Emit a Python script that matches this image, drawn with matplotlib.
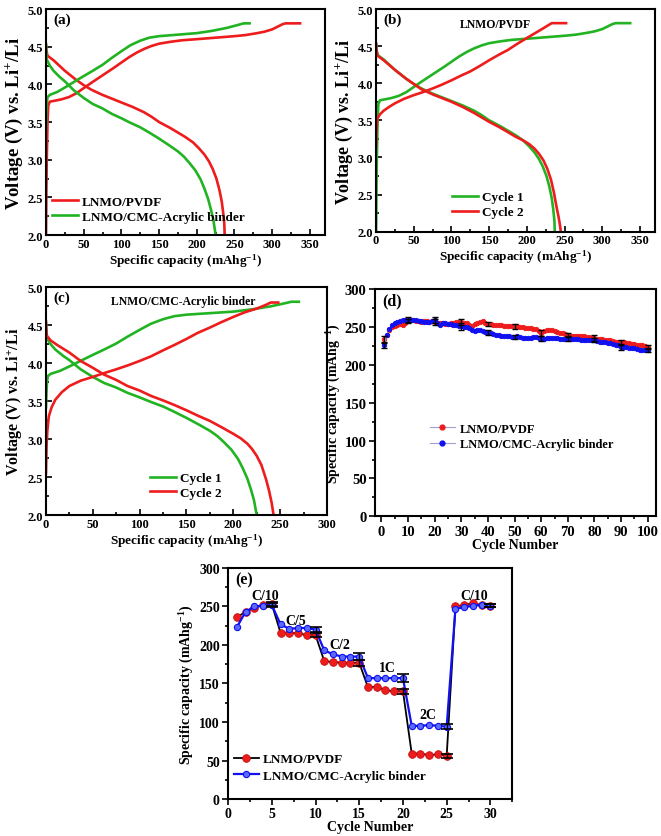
import matplotlib
matplotlib.use("Agg")
import matplotlib.pyplot as plt
from matplotlib.ticker import MultipleLocator, FormatStrFormatter
from matplotlib.lines import Line2D

plt.rcParams['font.family'] = ['Liberation Serif', 'DejaVu Serif']
plt.rcParams['font.weight'] = 'bold'
plt.rcParams['axes.labelweight'] = 'bold'
plt.rcParams['mathtext.fontset'] = 'custom'
plt.rcParams['mathtext.bf'] = 'Liberation Serif:bold'
plt.rcParams['mathtext.rm'] = 'Liberation Serif:bold'
plt.rcParams['mathtext.default'] = 'bf'

RED = '#ee1c1c'
GREEN = '#22b322'
BLUE = '#1010f0'

# ---- charge / discharge curves (capacity mAh/g, voltage V) ----
pvdf_c1_chg_x = [0, 0.5, 1, 2, 3, 5, 10, 20, 30, 40, 50, 60, 75, 90, 100, 110, 120, 130, 140, 150,
                 165, 180, 200, 225, 250, 265, 280, 290, 300, 308, 314, 318, 337]
pvdf_c1_chg_v = [2.0, 2.6, 3.0, 3.5, 3.72, 3.77, 3.78, 3.80, 3.83, 3.88, 3.95, 4.02, 4.12, 4.22, 4.29, 4.36,
                 4.42, 4.47, 4.51, 4.54, 4.565, 4.585, 4.60, 4.62, 4.64, 4.655, 4.68, 4.70, 4.73, 4.77, 4.80, 4.81, 4.81]
pvdf_c1_dis_x = [0, 0.5, 2, 10, 25, 40, 50, 60, 75, 90, 100, 115, 130, 140, 150, 165, 175, 185, 195, 203,
                 210, 216, 221, 226, 230, 233, 235, 236.5, 237]
pvdf_c1_dis_v = [4.53, 4.45, 4.38, 4.32, 4.18, 4.06, 3.99, 3.93, 3.86, 3.80, 3.76, 3.70, 3.63, 3.57, 3.50,
                 3.42, 3.36, 3.30, 3.23, 3.15, 3.07, 2.98, 2.88, 2.75, 2.60, 2.45, 2.30, 2.15, 2.0]

cmc_c1_chg_x = [0, 0.5, 1, 2, 5, 15, 27, 40, 50, 62, 75, 87, 100, 112, 125, 137, 150, 175, 200, 220,
                240, 255, 262, 270]
cmc_c1_chg_v = [3.42, 3.60, 3.75, 3.83, 3.86, 3.90, 3.97, 4.05, 4.11, 4.18, 4.26, 4.35, 4.44, 4.52, 4.58,
                4.62, 4.64, 4.66, 4.68, 4.71, 4.75, 4.79, 4.81, 4.81]
cmc_c1_dis_x = [0, 0.5, 1, 5, 10, 18, 25, 37, 50, 62, 75, 87, 100, 112, 125, 137, 150, 162, 175, 183,
                190, 198, 205, 210, 215, 219, 222, 225]
cmc_c1_dis_v = [4.52, 4.40, 4.33, 4.25, 4.18, 4.10, 4.04, 3.92, 3.82, 3.74, 3.68, 3.61, 3.55, 3.49, 3.43,
                3.36, 3.28, 3.20, 3.11, 3.04, 2.96, 2.86, 2.74, 2.62, 2.48, 2.33, 2.20, 2.0]

pvdf_c2_chg_x = [0, 0.5, 1, 2, 5, 10, 17, 25, 37, 50, 62, 75, 87, 100, 112, 125, 137, 150, 162, 175,
                 187, 200, 210, 220, 228, 233, 252]
pvdf_c2_chg_v = [3.15, 3.35, 3.45, 3.53, 3.58, 3.63, 3.68, 3.73, 3.79, 3.84, 3.88, 3.93, 3.98, 4.04, 4.10,
                 4.16, 4.23, 4.31, 4.38, 4.45, 4.53, 4.61, 4.67, 4.73, 4.78, 4.81, 4.81]
pvdf_c2_dis_x = [0, 0.5, 2, 10, 25, 40, 50, 60, 75, 90, 100, 115, 130, 140, 150, 165, 175, 185, 195, 203,
                 210, 216, 222, 227, 232, 236, 239, 242, 244, 245]
pvdf_c2_dis_v = [4.53, 4.45, 4.37, 4.31, 4.18, 4.06, 3.99, 3.92, 3.85, 3.79, 3.75, 3.68, 3.60, 3.54, 3.48,
                 3.40, 3.34, 3.28, 3.23, 3.18, 3.12, 3.05, 2.96, 2.85, 2.70, 2.52, 2.35, 2.20, 2.08, 2.0]

cmc_c2_chg_x = [0, 0.3, 0.7, 1.5, 3, 6, 10, 17, 25, 37, 50, 62, 75, 87, 100, 112, 125, 137, 150, 162,
                175, 187, 200, 212, 225, 235, 240, 248]
cmc_c2_chg_v = [2.55, 2.75, 2.95, 3.12, 3.30, 3.42, 3.52, 3.62, 3.70, 3.77, 3.82, 3.87, 3.92, 3.97, 4.03,
                4.09, 4.17, 4.24, 4.32, 4.40, 4.47, 4.54, 4.61, 4.67, 4.72, 4.77, 4.80, 4.80]
cmc_c2_dis_x = [0, 0.5, 1, 5, 12, 25, 37, 50, 62, 75, 87, 100, 112, 125, 137, 150, 162, 175, 187, 200,
                208, 215, 220, 225, 230, 235, 238, 241, 243]
cmc_c2_dis_v = [4.55, 4.42, 4.36, 4.30, 4.24, 4.14, 4.03, 3.94, 3.85, 3.78, 3.70, 3.64, 3.57, 3.51, 3.45,
                3.38, 3.31, 3.24, 3.16, 3.07, 3.01, 2.94, 2.87, 2.78, 2.66, 2.47, 2.33, 2.16, 2.0]

# ---- cycling (d) ----
cycles_d = list(range(1, 101))
pvdf_d = [235, 240, 246, 250, 252, 253, 254, 253, 256, 258,
          259, 259, 258, 258, 257, 258, 258, 257, 258, 257,
          256, 255, 255, 254, 254, 255, 256, 257, 257, 257,
          256, 255, 253, 252, 254, 256, 257, 258, 256, 254,
          254, 253, 253, 253, 253, 252, 252, 251, 251, 251,
          251, 250, 250, 249, 249, 249, 248, 248, 245, 243,
          245, 246, 246, 246, 245, 244, 243, 242, 241, 240,
          239, 239, 238, 238, 238, 238, 237, 237, 236, 236,
          235, 234, 234, 233, 233, 233, 232, 231, 230, 230,
          230, 229, 229, 228, 228, 227, 226, 226, 225, 224]
cmc_d = [226, 240, 248, 253, 256, 257, 258, 259, 259, 260,
         260, 259, 259, 258, 258, 257, 257, 257, 258, 259,
         256, 253, 256, 255, 254, 254, 253, 253, 252, 251,
         250, 250, 249, 246, 245, 247, 247, 245, 244, 243,
         243, 241, 240, 240, 239, 239, 238, 238, 237, 237,
         238, 237, 236, 236, 236, 236, 237, 237, 236, 235,
         235, 236, 236, 236, 236, 236, 235, 235, 235, 235,
         235, 235, 234, 234, 233, 233, 233, 233, 233, 233,
         232, 231, 230, 230, 229, 229, 228, 227, 226, 224,
         224, 224, 223, 223, 222, 221, 220, 220, 220, 220]
err_cycles_d = [1, 10, 20, 30, 40, 50, 60, 70, 80, 90, 100]
pvdf_err_d = [4, 3, 4, 4, 3, 3, 4, 3, 4, 3, 3]
cmc_err_d = [3, 3, 4, 4, 3, 3, 3, 3, 3, 4, 3]

# ---- rate capability (e) ----
cycles_e = list(range(1, 31))
pvdf_e = [236, 243, 248, 252, 253, 216, 216, 215, 213, 213,
          179, 178, 177, 177, 177, 145, 146, 141, 140, 140,
          59, 59, 57, 58, 56, 250, 252, 254, 252, 251]
cmc_e = [223, 243, 250, 251, 252, 227, 221, 222, 222, 220,
         193, 188, 185, 185, 185, 157, 157, 157, 157, 157,
         95, 95, 96, 95, 94, 247, 249, 251, 252, 251]
err_cycles_e = [5, 10, 15, 20, 25, 30]
pvdf_err_e = [3, 3, 4, 3, 3, 2]
cmc_err_e = [3, 3, 4, 5, 3, 2]
rate_labels = ['C/10', 'C/5', 'C/2', '1C', '2C', 'C/10']
rate_label_x = [4.3, 7.7, 12.8, 18.2, 22.9, 28.1]
rate_label_y = [264, 232, 201, 171, 110, 264]

fig = plt.figure(figsize=(6.61, 8.37), dpi=100)


def style_axes(ax, fs_tick, xmaj, xmin, ymaj, ymin, direction='out'):
    ax.tick_params(which='both', direction=direction, top=False, right=False, labelsize=fs_tick, width=1.2, pad=2)
    ax.tick_params(which='major', length=4)
    ax.tick_params(which='minor', length=2.5)
    ax.xaxis.set_major_locator(MultipleLocator(xmaj))
    ax.xaxis.set_minor_locator(MultipleLocator(xmin))
    ax.yaxis.set_major_locator(MultipleLocator(ymaj))
    ax.yaxis.set_minor_locator(MultipleLocator(ymin))
    for s in ax.spines.values():
        s.set_linewidth(1.5)
    for lab in ax.get_xticklabels() + ax.get_yticklabels():
        lab.set_fontweight('bold')


def voltage_panel(rect, xmax, letter, ylab_size):
    ax = fig.add_axes(rect)
    ax.set_xlim(0, xmax)
    ax.set_ylim(2.0, 5.0)
    style_axes(ax, 9, 50, 25, 0.5, 0.25, direction='in')
    ax.yaxis.set_major_formatter(FormatStrFormatter('%.1f'))
    ax.set_xlabel('Specific capacity (mAhg$^{-1}$)', fontsize=9.5, labelpad=1)
    ax.set_ylabel('Voltage (V) vs. Li$^{+}$/Li', fontsize=ylab_size, labelpad=2)
    ax.text(0.025, 0.985, letter, transform=ax.transAxes, ha='left', va='top', fontsize=11)
    return ax


lw = 1.9
leg_kw = dict(frameon=False, fontsize=9.5, handlelength=2.0, handletextpad=0.3,
              labelspacing=0.2, borderaxespad=0.0, borderpad=0.0)

# (a)
ax_a = voltage_panel([0.0696, 0.718, 0.422, 0.270], 370, '(a)', 13.5)
ax_a.plot(pvdf_c1_chg_x, pvdf_c1_chg_v, color=RED, lw=lw)
ax_a.plot(pvdf_c1_dis_x, pvdf_c1_dis_v, color=RED, lw=lw, label='LNMO/PVDF')
ax_a.plot(cmc_c1_chg_x, cmc_c1_chg_v, color=GREEN, lw=lw)
ax_a.plot(cmc_c1_dis_x, cmc_c1_dis_v, color=GREEN, lw=lw, label='LNMO/CMC-Acrylic binder')
ax_a.legend(loc='lower left', bbox_to_anchor=(0.02, 0.055), **leg_kw)

# (b)
ax_b = voltage_panel([0.569, 0.722, 0.422, 0.266], 370, '(b)', 13)
ax_b.plot(pvdf_c1_chg_x, pvdf_c1_chg_v, color=GREEN, lw=lw)
ax_b.plot(pvdf_c1_dis_x, pvdf_c1_dis_v, color=GREEN, lw=lw, label='Cycle 1')
ax_b.plot(pvdf_c2_chg_x, pvdf_c2_chg_v, color=RED, lw=lw)
ax_b.plot(pvdf_c2_dis_x, pvdf_c2_dis_v, color=RED, lw=lw, label='Cycle 2')
ax_b.text(0.30, 0.935, 'LNMO/PVDF', transform=ax_b.transAxes, fontsize=8.5, va='center')
ax_b.legend(loc='lower left', bbox_to_anchor=(0.272, 0.06), **leg_kw)

# (c)
ax_c = voltage_panel([0.0696, 0.3835, 0.425, 0.272], 300, '(c)', 11.5)
ax_c.plot(cmc_c1_chg_x, cmc_c1_chg_v, color=GREEN, lw=lw)
ax_c.plot(cmc_c1_dis_x, cmc_c1_dis_v, color=GREEN, lw=lw, label='Cycle 1')
ax_c.plot(cmc_c2_chg_x, cmc_c2_chg_v, color=RED, lw=lw)
ax_c.plot(cmc_c2_dis_x, cmc_c2_dis_v, color=RED, lw=lw, label='Cycle 2')
ax_c.text(0.23, 0.942, 'LNMO/CMC-Acrylic binder', transform=ax_c.transAxes, fontsize=8.5, va='center')
ax_c.legend(loc='lower left', bbox_to_anchor=(0.37, 0.07), **leg_kw)

# (d)
ax_d = fig.add_axes([0.567, 0.382, 0.425, 0.271])
ax_d.set_xlim(-2.5, 103)
ax_d.set_ylim(0, 300)
style_axes(ax_d, 10.5, 10, 5, 50, 25)
ax_d.plot(cycles_d, pvdf_d, color='#a0a0d0', lw=0.8, marker='o', ms=3.2, mfc=RED, mec=RED, mew=0.6, zorder=3)
ax_d.plot(cycles_d, cmc_d, color='#a0a0d0', lw=0.8, marker='o', ms=3.2, mfc=BLUE, mec=BLUE, mew=0.6, zorder=3)
pvdf_d_at = [pvdf_d[c - 1] for c in err_cycles_d]
cmc_d_at = [cmc_d[c - 1] for c in err_cycles_d]
ax_d.errorbar(err_cycles_d, pvdf_d_at, yerr=pvdf_err_d, fmt='none', ecolor='black', elinewidth=0.9, capsize=2.5, zorder=4)
ax_d.errorbar(err_cycles_d, cmc_d_at, yerr=cmc_err_d, fmt='none', ecolor='black', elinewidth=0.9, capsize=2.5, zorder=4)
ax_d.set_xlabel('Cycle Number', fontsize=10, labelpad=0)
ax_d.set_ylabel('Specific capacity (mAhg$^{-1}$)', fontsize=10, labelpad=1)
ax_d.text(0.025, 0.985, '(d)', transform=ax_d.transAxes, ha='left', va='top', fontsize=11.5)
hd = [Line2D([], [], color='#a0a0d0', lw=0.8, marker='o', ms=3.5, mfc=RED, mec=RED),
      Line2D([], [], color='#a0a0d0', lw=0.8, marker='o', ms=3.5, mfc=BLUE, mec=BLUE)]
ax_d.legend(hd, ['LNMO/PVDF', 'LNMO/CMC-Acrylic binder'], loc='lower left', bbox_to_anchor=(0.195, 0.29),
            frameon=False, fontsize=9, handlelength=2.0, handletextpad=0.4, labelspacing=0.3,
            borderaxespad=0.0, borderpad=0.0)

# (e)
ax_e = fig.add_axes([0.345, 0.0442, 0.430, 0.276])
ax_e.set_xlim(0, 32.5)
ax_e.set_ylim(0, 300)
style_axes(ax_e, 10, 5, 2.5, 50, 25)
ax_e.plot(cycles_e, pvdf_e, color='black', lw=1.3, marker='o', ms=5.5, mfc=RED, mec='#c01010', mew=0.6, zorder=3,
          label='LNMO/PVDF')
ax_e.plot(cycles_e, cmc_e, color=BLUE, lw=1.6, marker='o', ms=4.5, mfc='#5a6aff', mec=BLUE, mew=0.8, zorder=3,
          label='LNMO/CMC-Acrylic binder')
pvdf_e_at = [pvdf_e[c - 1] for c in err_cycles_e]
cmc_e_at = [cmc_e[c - 1] for c in err_cycles_e]
ax_e.errorbar(err_cycles_e, pvdf_e_at, yerr=pvdf_err_e, fmt='none', ecolor='black', elinewidth=1.0, capsize=4, capthick=1.2, zorder=4)
ax_e.errorbar(err_cycles_e, cmc_e_at, yerr=cmc_err_e, fmt='none', ecolor='black', elinewidth=1.0, capsize=4, capthick=1.2, zorder=4)
for lab, lx, ly in zip(rate_labels, rate_label_x, rate_label_y):
    ax_e.text(lx, ly, lab, ha='center', va='center', fontsize=10)
ax_e.set_xlabel('Cycle Number', fontsize=10, labelpad=0)
ax_e.set_ylabel('Specific capacity (mAhg$^{-1}$)', fontsize=10, labelpad=2)
ax_e.text(0.025, 0.985, '(e)', transform=ax_e.transAxes, ha='left', va='top', fontsize=11.5)
ax_e.legend(loc='lower left', bbox_to_anchor=(0.02, 0.075), frameon=False, fontsize=9.5,
            handlelength=1.9, handletextpad=0.3, labelspacing=0.3, borderaxespad=0.0, borderpad=0.0)

fig.savefig('out.png', dpi=100)
